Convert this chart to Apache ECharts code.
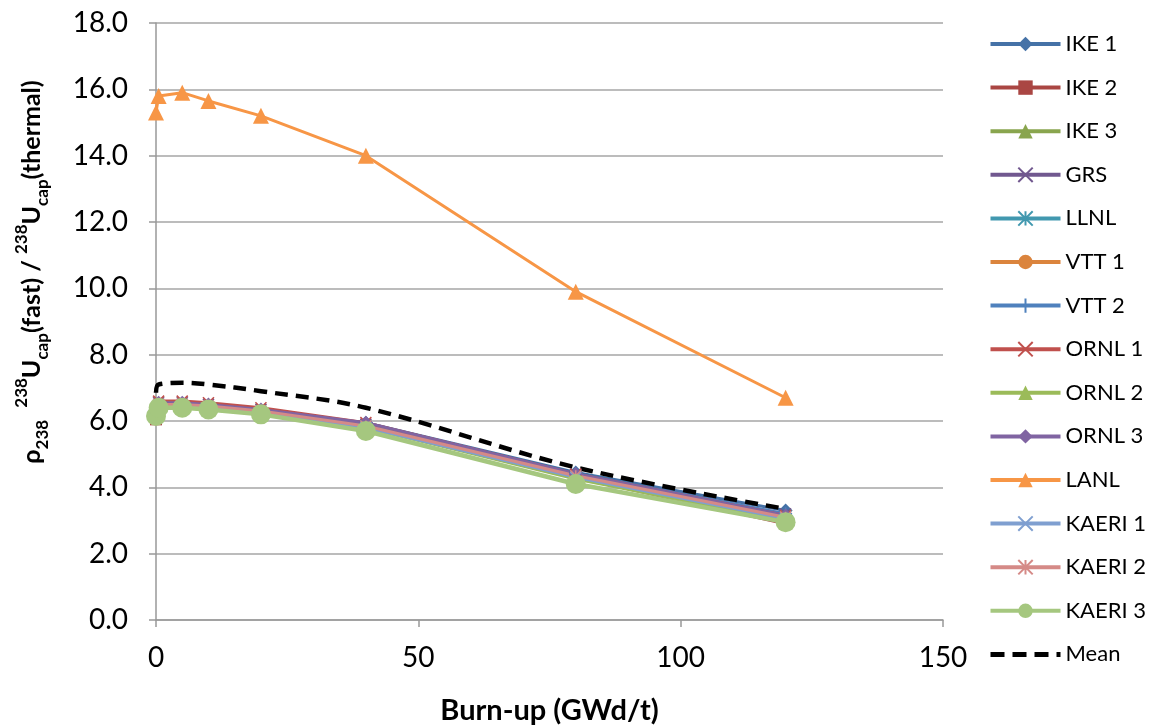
<!DOCTYPE html>
<html>
<head>
<meta charset="utf-8">
<script src="https://cdn.jsdelivr.net/npm/echarts@6/dist/echarts.min.js"></script>
<style>html,body{margin:0;padding:0;background:#fff}#c{width:1151px;height:725px}</style>
</head>
<body>
<div id="c"></div>
<script>
const burnup = [0, 0.5, 5, 10, 20, 40, 80, 120];
const seriesNames = ["IKE 1","IKE 2","IKE 3","GRS","LLNL","VTT 1","VTT 2","ORNL 1","ORNL 2","ORNL 3","LANL","KAERI 1","KAERI 2","KAERI 3","Mean"];
const ike1   = [6.20, 6.50, 6.50, 6.45, 6.30, 5.95, 4.45, 3.30];
const ike2   = [6.05, 6.45, 6.45, 6.40, 6.25, 5.80, 4.30, 2.90];
const ike3   = [6.15, 6.50, 6.50, 6.45, 6.30, 5.85, 4.35, 3.10];
const grs    = [6.30, 6.55, 6.55, 6.50, 6.35, 5.90, 4.40, 3.20];
const llnl   = [6.20, 6.45, 6.45, 6.40, 6.25, 5.85, 4.35, 3.15];
const vtt1   = [6.15, 6.40, 6.45, 6.40, 6.25, 5.80, 4.30, 3.05];
const vtt2   = [6.20, 6.45, 6.50, 6.45, 6.30, 5.90, 4.40, 3.20];
const ornl1  = [6.30, 6.60, 6.60, 6.55, 6.40, 5.95, 4.40, 3.15];
const ornl2  = [6.15, 6.45, 6.45, 6.40, 6.25, 5.80, 4.25, 3.00];
const ornl3  = [6.30, 6.55, 6.55, 6.50, 6.35, 5.95, 4.40, 3.15];
const lanl   = [15.30, 15.80, 15.90, 15.65, 15.20, 14.00, 9.90, 6.70];
const kaeri1 = [6.20, 6.45, 6.45, 6.40, 6.25, 5.80, 4.30, 3.05];
const kaeri2 = [6.25, 6.50, 6.50, 6.45, 6.30, 5.85, 4.35, 3.10];
const kaeri3 = [6.15, 6.40, 6.40, 6.35, 6.20, 5.70, 4.10, 2.95];
const mean   = [6.85, 7.10, 7.15, 7.10, 6.90, 6.40, 4.60, 3.35];
const yTicks = [0, 2, 4, 6, 8, 10, 12, 14, 16, 18];

const X_PATH = 'path://M0,0L10,10M10,0L0,10';
const STAR_PATH = 'path://M0,0L10,10M10,0L0,10M5,0L5,10';
const PLUS_PATH = 'path://M0,5L10,5M5,0L5,10';

const styles = [
  {d: ike1,   c: '#4572A7', s: 'diamond',  z: 14},
  {d: ike2,   c: '#AA4643', s: 'rect',     z: 12},
  {d: ike3,   c: '#89A54E', s: 'triangle', z: 14},
  {d: grs,    c: '#71588F', s: X_PATH,     z: 11, stroke: true},
  {d: llnl,   c: '#4198AF', s: STAR_PATH,  z: 11, stroke: true},
  {d: vtt1,   c: '#DB843D', s: 'circle',   z: 13},
  {d: vtt2,   c: '#4F81BD', s: PLUS_PATH,  z: 13, stroke: true},
  {d: ornl1,  c: '#C0504D', s: X_PATH,     z: 11, stroke: true},
  {d: ornl2,  c: '#9BBB59', s: 'triangle', z: 14},
  {d: ornl3,  c: '#8064A2', s: 'diamond',  z: 14},
  {d: lanl,   c: '#F79646', s: 'triangle', z: 16},
  {d: kaeri1, c: '#7F9FD0', s: X_PATH,     z: 11, stroke: true},
  {d: kaeri2, c: '#D58A87', s: STAR_PATH,  z: 11, stroke: true},
  {d: kaeri3, c: '#A5C77F', s: 'circle',   z: 20, w: 4.5}
];

const series = styles.map((st, i) => ({
  name: seriesNames[i],
  type: 'line',
  data: burnup.map((x, j) => [x, st.d[j]]),
  symbol: st.s,
  symbolSize: st.z,
  showSymbol: true,
  lineStyle: {color: st.c, width: st.w || 3},
  itemStyle: st.stroke ? {color: st.c, borderColor: st.c, borderWidth: 1.6} : {color: st.c},
  emphasis: {disabled: true},
  animation: false
}));
series.push({
  name: 'Mean',
  type: 'line',
  data: burnup.map((x, j) => [x, mean[j]]),
  smooth: 0.35,
  symbol: 'none',
  lineStyle: {color: '#000', width: 4.5, type: [13, 8]},
  itemStyle: {color: '#000'},
  emphasis: {disabled: true},
  animation: false
});

const legendData = seriesNames.map(n => n === 'Mean'
  ? {name: n, itemStyle: {opacity: 0}, lineStyle: {width: 5, type: [14, 8]}}
  : {name: n});

const chart = echarts.init(document.getElementById('c'), null, {renderer: 'canvas'});
const FONT = 'Lato, "Open Sans", sans-serif';
chart.setOption({
  animation: false,
  backgroundColor: '#fff',
  textStyle: {fontFamily: FONT},
  grid: {left: 156, right: 208, top: 23, bottom: 105, containLabel: false, outerBoundsMode: 'none'},
  xAxis: {
    type: 'value', min: 0, max: 150, interval: 50,
    axisLine: {show: true, onZero: false, lineStyle: {color: '#999', width: 1.5}},
    axisTick: {show: true, length: 7, lineStyle: {color: '#999', width: 1.5}},
    splitLine: {show: false},
    axisLabel: {color: '#000', fontSize: 28, margin: 24, fontFamily: FONT},
    name: 'Burn-up (GWd/t)', nameLocation: 'middle', nameGap: 76,
    nameTextStyle: {color: '#000', fontSize: 29, fontWeight: 'bold', fontFamily: FONT}
  },
  yAxis: {
    type: 'value', min: yTicks[0], max: yTicks[yTicks.length - 1], interval: 2,
    axisLine: {show: true, lineStyle: {color: '#999', width: 1.5}},
    axisTick: {show: true, length: 7, lineStyle: {color: '#999', width: 1.5}},
    splitLine: {show: true, lineStyle: {color: '#A6A6A6', width: 1.5}},
    axisLabel: {color: '#000', fontSize: 28, margin: 28, fontFamily: FONT, formatter: v => v.toFixed(1)}
  },
  legend: {
    orient: 'vertical', left: 988, top: 33, padding: 0,
    itemWidth: 70, itemHeight: 18, itemGap: 21.6,
    data: legendData,
    lineStyle: {width: 4},
    textStyle: {color: '#000', fontSize: 22, fontFamily: FONT}
  },
  graphic: [{
    type: 'text',
    x: 32, y: 272,
    rotation: Math.PI / 2,
    style: {
      text: '{b|ρ}{sub|238}{b|  }{sup|238}{b|U}{sub|cap}{b|(fast) / }{sup|238}{b|U}{sub|cap}{b|(thermal)}',
      align: 'center', verticalAlign: 'middle',
      fontFamily: FONT,
      rich: {
        b: {fontSize: 25, fontWeight: 'bold', fill: '#000', fontFamily: FONT, lineHeight: 38, verticalAlign: 'middle'},
        sub: {fontSize: 17, fontWeight: 'bold', fill: '#000', fontFamily: FONT, lineHeight: 38, verticalAlign: 'bottom'},
        sup: {fontSize: 17, fontWeight: 'bold', fill: '#000', fontFamily: FONT, lineHeight: 38, verticalAlign: 'top'}
      }
    }
  }],
  series: series
});
</script>
</body>
</html>
